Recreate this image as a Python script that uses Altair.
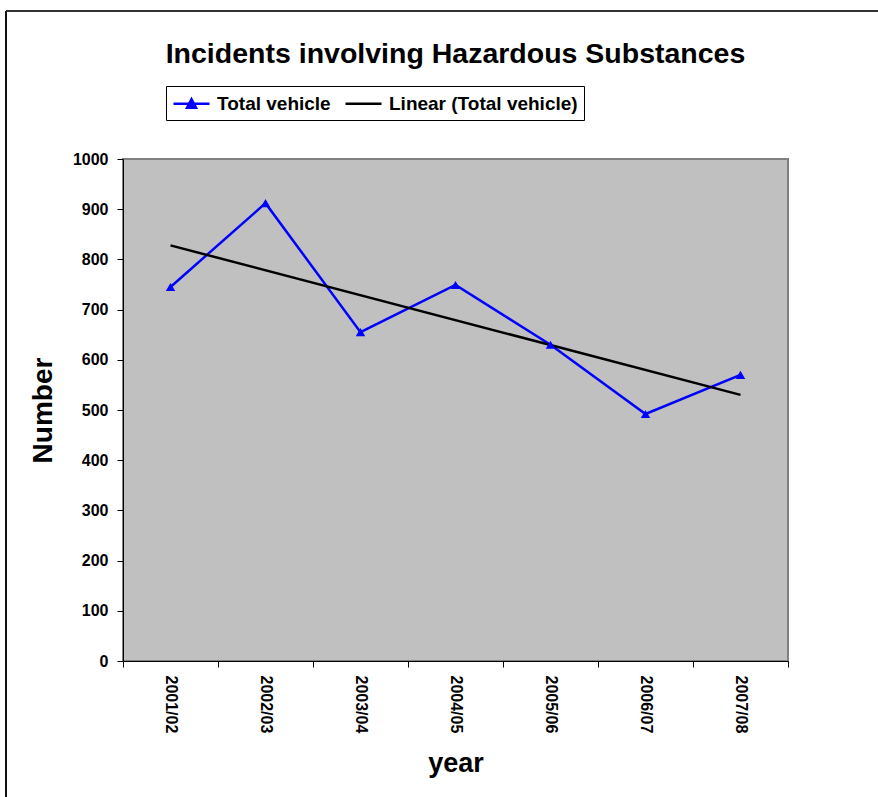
import altair as alt
import pandas as pd

years = ["2001/02", "2002/03", "2003/04", "2004/05", "2005/06", "2006/07", "2007/08"]
total_vehicle = [745, 912, 655, 749, 630, 492, 570]
series_names = ["Total vehicle", "Linear (Total vehicle)"]
series_colors = ["#0000FF", "#000000"]
y_ticks = [0, 100, 200, 300, 400, 500, 600, 700, 800, 900, 1000]

df = pd.DataFrame({"year": years, "value": total_vehicle, "idx": list(range(len(years)))})

FONT = "Liberation Sans"

xenc = alt.X(
    "year:O",
    sort=years,
    scale=alt.Scale(type="band", paddingInner=0, paddingOuter=0),
    axis=alt.Axis(
        title="year",
        labelAngle=90,
        labelAlign="left",
        labelBaseline="middle",
        tickBand="extent",
        tickSize=6,
        labelPadding=8,
        titlePadding=18,
        domainColor="black",
        tickColor="black",
        labelFontSize=16,
        titleFontSize=27,
        labelFontWeight="bold",
        titleFontWeight="bold",
        labelFont=FONT,
        titleFont=FONT,
        labelColor="black",
        titleColor="black",
    ),
)

yenc = alt.Y(
    "value:Q",
    scale=alt.Scale(domain=[0, 1000], nice=False),
    axis=alt.Axis(
        title="Number",
        values=y_ticks,
        format="d",
        grid=False,
        tickSize=6,
        labelPadding=9,
        titlePadding=15,
        domainColor="black",
        tickColor="black",
        labelFontSize=16,
        titleFontSize=28,
        labelFontWeight="bold",
        titleFontWeight="bold",
        labelFont=FONT,
        titleFont=FONT,
        labelColor="black",
        titleColor="black",
    ),
)

# symbol column is 20px wide (sqrt of symbolSize); path units are 10px
legend_shape = (
    "datum.value == 'Total vehicle' ? "
    "'M-1,0L2.6,0M0.35,0.4L0.8,-0.45L1.25,0.4Z' : 'M-1,0L2.6,0'"
)

color = alt.Color(
    "series:N",
    scale=alt.Scale(domain=series_names, range=series_colors),
    legend=alt.Legend(
        title=None,
        orient="none",
        legendX=43,
        legendY=-73,
        direction="horizontal",
        strokeColor="black",
        fillColor="white",
        padding=6,
        symbolType={"expr": legend_shape},
        symbolFillColor={"expr": "datum.value == 'Total vehicle' ? '#0000FF' : 'transparent'"},
        symbolSize=400,
        symbolStrokeWidth=2.5,
        labelFontSize=19,
        labelFontWeight="bold",
        labelFont=FONT,
        labelColor="black",
        columnPadding=9,
        labelOffset=22,
        labelLimit=400,
    ),
)

base = alt.Chart(df)

line = base.transform_calculate(series="'Total vehicle'").mark_line(strokeWidth=2.5).encode(
    x=xenc, y=yenc, color=color
)

pts = base.mark_point(shape="triangle-up", filled=True, size=90, color="#0000FF", opacity=1).encode(
    x=alt.X("year:O", sort=years), y="value:Q"
)

trend = (
    base.transform_regression("idx", "value")
    .transform_lookup(lookup="idx", from_=alt.LookupData(data=df, key="idx", fields=["year"]))
    .transform_calculate(series="'Linear (Total vehicle)'")
    .mark_line(strokeWidth=2.5)
    .encode(x=alt.X("year:O", sort=years), y="value:Q", color="series:N")
)

border_left = base.mark_rule(color="#111111", strokeWidth=2).encode(
    x=alt.value(-117), y=alt.value(-148), y2=alt.value(700)
)
border_top = base.mark_rule(color="#333333", strokeWidth=2).encode(
    x=alt.value(-117), x2=alt.value(800), y=alt.value(-148)
)

chart = (
    alt.layer(line, trend, pts, border_left, border_top)
    .properties(
        width=665,
        height=502,
        padding={"left": 123, "top": 159, "right": 90, "bottom": 136},
        autosize=alt.AutoSizeParams(type="none"),
        title=alt.TitleParams(
            "Incidents involving Hazardous Substances",
            fontSize=28.5,
            font=FONT,
            fontWeight="bold",
            color="black",
            anchor="middle",
            offset=0,
            dy=58,
        ),
        background="white",
    )
    .configure_view(fill="#C0C0C0", stroke="#808080", strokeWidth=2)
)

chart.save("out.html", embed_options={"renderer": "svg", "actions": False})
